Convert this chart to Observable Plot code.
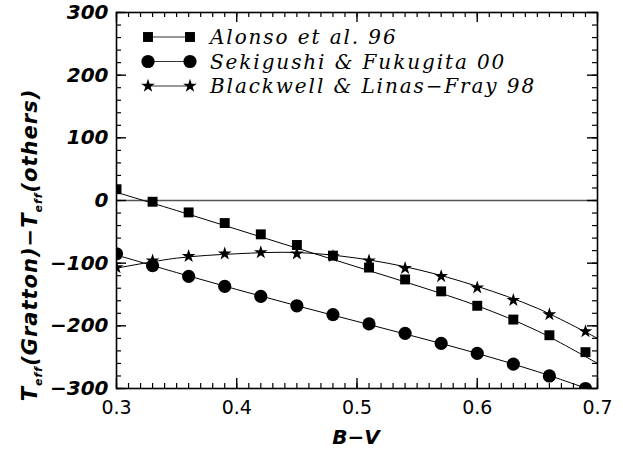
<!DOCTYPE html>
<html><head><meta charset="utf-8">
<script src="https://cdn.jsdelivr.net/npm/d3@7"></script>
<script src="https://cdn.jsdelivr.net/npm/@observablehq/plot@0.6"></script>
<style>
body{margin:0;background:#fff}
#chart{position:relative;width:623px;height:450px}
</style>
</head><body><div id="chart"></div>
<script>
// ---- data ----
const bv = [0.30,0.33,0.36,0.39,0.42,0.45,0.48,0.51,0.54,0.57,0.60,0.63,0.66,0.69];
const alonso    = [18,-2,-19,-36,-54,-71,-88,-107,-126,-145,-168,-190,-215,-242];
const sekigushi = [-85,-104,-121,-137,-153,-168,-182,-197,-212,-228,-244,-261,-280,-300];
const blackwell = [-107,-96,-89,-85,-83,-85,-89,-96,-108,-121,-139,-159,-182,-209];
// fitted curves drawn through the points
const fitBV = [0.30,0.35,0.40,0.45,0.50,0.55,0.60,0.65,0.70];
const alonsoFit    = [13,-16,-46,-76,-106,-136,-168,-208,-260];
const sekigushiFit = [-87,-115,-142,-168,-193,-218,-244,-273,-306];
const blackwellFit = [-108,-92,-85,-83,-92,-110,-137,-172,-220];
const seriesNames = ["Alonso et al. 96","Sekigushi & Fukugita 00","Blackwell & Linas\u2212Fray 98"];
const seriesSymbols = ["square","circle","star"];
const xTicks = [0.3,0.4,0.5,0.6,0.7];
const yTicks = [-300,-200,-100,0,100,200,300];

const pts = ys => bv.map((x,i)=>({x, y: ys[i]}));
const fit = ys => fitBV.map((x,i)=>({x, y: ys[i]}));
const xMinor = d3.range(30,71).map(v=>v/100);
const yMinor = d3.range(-300,301,20);
const symR = {square:5.6, circle:6.6, star:4.3};
const minus = d => d < 0 ? "\u2212" + Math.abs(d) : String(d);

const pointSets = [alonso, sekigushi, blackwell];
const fitSets = [alonsoFit, sekigushiFit, blackwellFit];

const W = 623, H = 450, mL = 116, mR = 26, mT = 12, mB = 62;
const fw = W - mL - mR, fh = H - mT - mB;
const minorLen = 5, majorLen = 10;

const plot = Plot.plot({
  width: W, height: H,
  marginLeft: mL, marginRight: mR, marginTop: mT, marginBottom: mB,
  style: {background: "#fff", color: "#000", overflow: "visible"},
  x: {domain: [0.3, 0.7]},
  y: {domain: [-300, 300]},
  marks: [
    Plot.ruleY([0], {stroke: "#555", strokeWidth: 1.6}),
    ...fitSets.map(f => Plot.line(fit(f), {x: "x", y: "y", curve: "catmull-rom", stroke: "#000", strokeWidth: 1, clip: true})),
    ...pointSets.map((p,i) => Plot.dot(pts(p), {x: "x", y: "y", symbol: seriesSymbols[i], r: symR[seriesSymbols[i]], fill: "#000", stroke: "none", clip: true})),
    // inward ticks on all four sides
    Plot.ruleX(xMinor, {insetTop: fh - minorLen, stroke: "#000", strokeWidth: 1.2}),
    Plot.ruleX(xMinor, {insetBottom: fh - minorLen, stroke: "#000", strokeWidth: 1.2}),
    Plot.ruleY(yMinor, {insetRight: fw - minorLen, stroke: "#000", strokeWidth: 1.2}),
    Plot.ruleY(yMinor, {insetLeft: fw - minorLen, stroke: "#000", strokeWidth: 1.2}),
    Plot.ruleX(xTicks, {insetTop: fh - majorLen, stroke: "#000", strokeWidth: 1.4}),
    Plot.ruleX(xTicks, {insetBottom: fh - majorLen, stroke: "#000", strokeWidth: 1.4}),
    Plot.ruleY(yTicks, {insetRight: fw - majorLen, stroke: "#000", strokeWidth: 1.4}),
    Plot.ruleY(yTicks, {insetLeft: fw - majorLen, stroke: "#000", strokeWidth: 1.4}),
    // tick labels
    Plot.axisX({ticks: xTicks, anchor: "bottom", tickSize: 0, tickPadding: 12, tickFormat: d => d.toFixed(1), label: null,
      fontSize: 19, fontFamily: "DejaVu Sans"}),
    Plot.axisY({ticks: yTicks, anchor: "left", tickSize: 0, tickPadding: 8, tickFormat: minus, label: null,
      fontSize: 20, fontFamily: "DejaVu Sans", fontWeight: "bold", fontStyle: "italic"}),
    Plot.frame({stroke: "#000", strokeWidth: 1.6})
  ]
});

document.getElementById("chart").appendChild(plot);
const svg = d3.select(plot);

// legend
const leg = svg.append("g").attr("text-anchor", "start");
seriesNames.forEach((name, i) => {
  const y = 37 + i * 24.5;
  const sym = seriesSymbols[i];
  const type = sym === "square" ? d3.symbolSquare : sym === "circle" ? d3.symbolCircle : d3.symbolStar;
  const r = symR[sym];
  leg.append("line").attr("x1", 148).attr("x2", 190).attr("y1", y).attr("y2", y)
    .attr("stroke", "#333").attr("stroke-width", 1);
  [148, 190].forEach(cx => leg.append("path").attr("d", d3.symbol(type, r * r * Math.PI)())
    .attr("transform", `translate(${cx},${y})`).attr("fill", "#000"));
  leg.append("text").attr("x", 210).attr("y", y).attr("dy", "0.35em")
    .attr("font-family", "DejaVu Serif").attr("font-style", "italic").attr("font-size", 20)
    .attr("letter-spacing", 1.9).attr("fill", "#000").text(name);
});

// axis titles
svg.append("text").attr("x", 356).attr("y", 437).attr("dy", "0.35em").attr("text-anchor", "middle")
  .attr("font-family", "DejaVu Sans").attr("font-weight", "bold").attr("font-style", "italic").attr("font-size", 20)
  .text("B\u2212V");

const yl = svg.append("text").attr("transform", "translate(30,245) rotate(-90)").attr("text-anchor", "middle")
  .attr("dy", "0.35em").attr("letter-spacing", 1)
  .attr("font-family", "DejaVu Sans").attr("font-weight", "bold").attr("font-style", "italic").attr("font-size", 21);
yl.append("tspan").text("T");
yl.append("tspan").attr("font-size", 11).attr("dy", 5).text("eff");
yl.append("tspan").attr("dy", -5).text("(Gratton)\u2212T");
yl.append("tspan").attr("font-size", 11).attr("dy", 5).text("eff");
yl.append("tspan").attr("dy", -5).text("(others)");
</script>
</body></html>
